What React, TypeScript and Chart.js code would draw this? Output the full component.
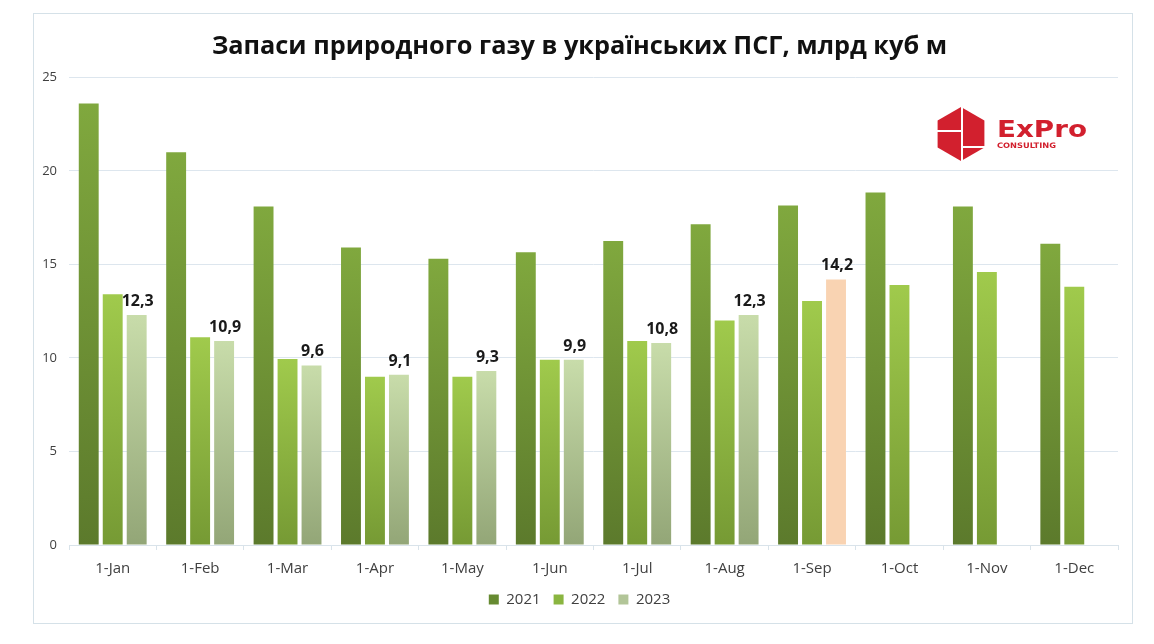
import React, { useEffect, useRef } from "react";
import { Chart, registerables } from "chart.js";

Chart.register(...registerables);

const categories = ["1-Jan", "1-Feb", "1-Mar", "1-Apr", "1-May", "1-Jun", "1-Jul", "1-Aug", "1-Sep", "1-Oct", "1-Nov", "1-Dec"];
const seriesNames = ["2021", "2022", "2023"];
const values2021 = [23.6, 21.0, 18.1, 15.9, 15.3, 15.65, 16.25, 17.15, 18.15, 18.85, 18.1, 16.1];
const values2022 = [13.4, 11.1, 9.95, 9.0, 9.0, 9.9, 10.9, 12.0, 13.05, 13.9, 14.6, 13.8];
const values2023: (number | null)[] = [12.3, 10.9, 9.6, 9.1, 9.3, 9.9, 10.8, 12.3, 14.2, null, null, null];
const yTicks = [0, 5, 10, 15, 20, 25];
const titleText = "Запаси природного газу в українських ПСГ, млрд куб м";
const highlightIndex = 8;

const FONT = "'Open Sans', 'Noto Sans', sans-serif";

const gradStops = [
  { top: "#80a83e", bottom: "#5c7a2c", legend: "#668a31" },
  { top: "#a0ca4c", bottom: "#769a34", legend: "#8ab540" },
  { top: "#c8dcaa", bottom: "#93a677", legend: "#b2c598" },
];
const peach = "#f9d3b2";

function makeBg(seriesIdx: number) {
  return (ctx: any) => {
    const chart = ctx.chart;
    const stops = gradStops[seriesIdx];
    if (seriesIdx === 2 && ctx.dataIndex === highlightIndex) return peach;
    const area = chart.chartArea;
    const yScale = chart.scales?.y;
    if (!area || !yScale || ctx.type !== "data" || ctx.raw == null) return stops.legend;
    const top = yScale.getPixelForValue(ctx.raw);
    const bottom = yScale.getPixelForValue(0);
    if (!isFinite(top) || !isFinite(bottom) || bottom - top < 1) return stops.legend;
    const g = chart.ctx.createLinearGradient(0, top, 0, bottom);
    g.addColorStop(0, stops.top);
    g.addColorStop(1, stops.bottom);
    return g;
  };
}

const valueLabels = {
  id: "valueLabels",
  afterDatasetsDraw(chart: any) {
    const meta = chart.getDatasetMeta(2);
    const c = chart.ctx;
    c.save();
    c.font = `bold 16px ${FONT}`;
    c.fillStyle = "#1a1a1a";
    c.textAlign = "center";
    c.textBaseline = "alphabetic";
    meta.data.forEach((bar: any, i: number) => {
      const v = values2023[i];
      if (v == null) return;
      c.fillText(v.toFixed(1).replace(".", ","), bar.x + 1, bar.y - 9);
    });
    c.restore();
  },
};

function ExProLogo() {
  const cx = 961, cy = 134, r = 27;
  const pts = [0, 1, 2, 3, 4, 5]
    .map((k) => {
      const a = (-90 + 60 * k) * Math.PI / 180;
      return `${(cx + r * Math.cos(a)).toFixed(1)},${(cy + r * Math.sin(a)).toFixed(1)}`;
    })
    .join(" ");
  return (
    <svg width={1154} height={644} style={{ position: "absolute", left: 0, top: 0, pointerEvents: "none" }}>
      <polygon points={pts} fill="#d2202e" />
      <line x1={962} y1={104} x2={962} y2={164} stroke="#fff" strokeWidth={2} />
      <line x1={934} y1={131} x2={962} y2={131} stroke="#fff" strokeWidth={2} />
      <line x1={962} y1={147} x2={990} y2={147} stroke="#fff" strokeWidth={2} />
      <text x={997} y={137} fill="#d2202e" fontFamily="'DejaVu Sans', sans-serif" fontWeight={600} fontSize={23}
        textLength={90} lengthAdjust="spacingAndGlyphs">ExPro</text>
      <text x={997} y={148} fill="#d2202e" fontFamily="'DejaVu Sans', sans-serif" fontWeight={700} fontSize={7.5}
        textLength={59} lengthAdjust="spacingAndGlyphs">CONSULTING</text>
    </svg>
  );
}

export default function App() {
  const canvasRef = useRef<HTMLCanvasElement | null>(null);

  useEffect(() => {
    document.body.style.margin = "0";
    const canvas = canvasRef.current;
    if (!canvas) return;
    const chart = new Chart(canvas, {
      type: "bar",
      data: {
        labels: categories,
        datasets: [
          { label: seriesNames[0], data: values2021, backgroundColor: makeBg(0) },
          { label: seriesNames[1], data: values2022, backgroundColor: makeBg(1) },
          { label: seriesNames[2], data: values2023, backgroundColor: makeBg(2) },
        ],
      },
      options: {
        responsive: false,
        animation: false,
        layout: { padding: { left: 41, right: 36, top: 0, bottom: 27 } },
        datasets: { bar: { barPercentage: 0.83, categoryPercentage: 0.823 } } as any,
        plugins: {
          title: {
            display: true,
            text: titleText,
            color: "#111",
            font: { family: FONT, size: 25.3, weight: "bold" },
            padding: { top: 32, bottom: 15 },
          },
          legend: {
            position: "bottom",
            labels: {
              boxWidth: 10,
              boxHeight: 10,
              padding: 13,
              color: "#404040",
              font: { family: FONT, size: 15 },
              generateLabels: () =>
                seriesNames.map((n, i) => ({
                  text: n,
                  fillStyle: gradStops[i].legend,
                  strokeStyle: gradStops[i].legend,
                  lineWidth: 0,
                  hidden: false,
                  datasetIndex: i,
                  fontColor: "#404040",
                })),
            },
          },
          tooltip: { enabled: false },
        },
        scales: {
          x: {
            afterFit: (s: any) => { s.height = 34; },
            grid: {
              display: true,
              drawOnChartArea: false,
              drawTicks: true,
              tickLength: 5,
              color: "#d9e3ea",
              offset: true,
            },
            border: { display: true, color: "#d9e3ea" },
            ticks: { color: "#404040", font: { family: FONT, size: 15 }, padding: 10, maxRotation: 0 },
          },
          y: {
            min: 0,
            max: 25,
            afterFit: (s: any) => { s.width = 28; },
            afterBuildTicks: (s: any) => { s.ticks = yTicks.map((v) => ({ value: v })); },
            grid: { color: "#dde6ee", drawTicks: false },
            border: { display: false },
            ticks: { color: "#404040", font: { family: FONT, size: 13 }, padding: 12 },
          },
        },
      },
      plugins: [valueLabels],
    });
    return () => chart.destroy();
  }, []);

  return (
    <div style={{ position: "relative", width: 1154, height: 644, background: "#fff", overflow: "hidden" }}>
      <div
        style={{
          position: "absolute",
          left: 33,
          top: 13,
          width: 1100,
          height: 611,
          boxSizing: "border-box",
          border: "1px solid #d5e1e8",
        }}
      />
      <canvas ref={canvasRef} width={1154} height={644} style={{ position: "absolute", left: 0, top: 0 }} />
      <ExProLogo />
    </div>
  );
}
